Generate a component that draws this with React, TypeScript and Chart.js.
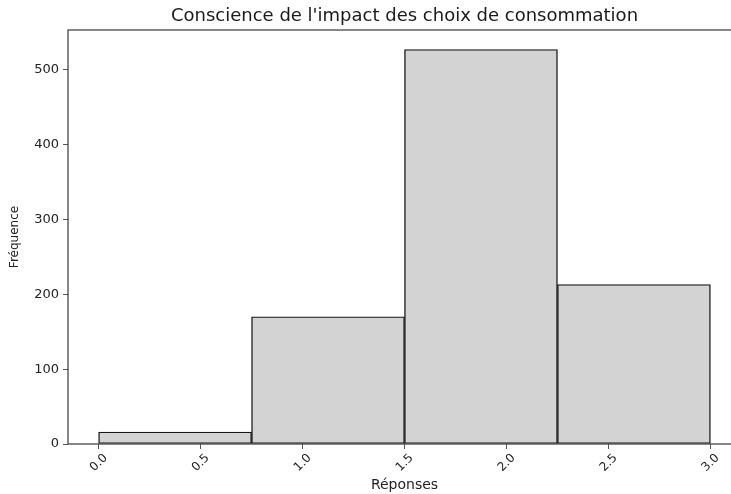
import React, { useEffect, useRef } from "react";
import { Chart, registerables } from "chart.js";

Chart.register(...registerables);

const binEdges = [0, 0.75, 1.5, 2.25, 3.0];
const counts = [16, 170, 527, 213];
const xTicks = [0, 0.5, 1.0, 1.5, 2.0, 2.5, 3.0];
const yTicks = [0, 100, 200, 300, 400, 500];
const titleText = "Conscience de l'impact des choix de consommation";
const xLabel = "Réponses";
const yLabel = "Fréquence";

const FONT = "'DejaVu Sans', sans-serif";

const framePlugin = {
  id: "frame",
  afterLayout(chart: any) {
    const tb = chart.titleBlock;
    if (tb) {
      tb.left = chart.chartArea.left;
      tb.right = chart.chartArea.right;
      tb.width = tb.right - tb.left;
    }
  },
  afterDatasetsDraw(chart: any) {
    const { ctx, chartArea } = chart;
    ctx.save();
    ctx.strokeStyle = "#3a3a3a";
    ctx.lineWidth = 1.2;
    ctx.strokeRect(chartArea.left, chartArea.top, chartArea.right - chartArea.left, chartArea.bottom - chartArea.top);
    ctx.restore();
  },
};

export default function App() {
  const ref = useRef<HTMLCanvasElement | null>(null);
  useEffect(() => {
    if (!ref.current) return;
    const data = counts.map((c, i) => ({ x: (binEdges[i] + binEdges[i + 1]) / 2, y: c }));
    const chart = new Chart(ref.current, {
      type: "bar",
      data: {
        datasets: [
          {
            data,
            backgroundColor: "#d3d3d3",
            borderColor: "#151515",
            borderWidth: 1.4,
            borderSkipped: false,
            barThickness: "flex",
            barPercentage: 1,
            categoryPercentage: 1,
          } as any,
        ],
      },
      options: {
        animation: false,
        responsive: true,
        maintainAspectRatio: false,
        layout: { padding: { left: 0, right: 19, top: 0, bottom: 0 } },
        plugins: {
          legend: { display: false },
          tooltip: { enabled: false },
          title: {
            display: true,
            text: titleText,
            color: "#1a1a1a",
            font: { family: FONT, size: 18, weight: "normal" },
            padding: { top: 6, bottom: 2.4 },
          },
        },
        scales: {
          x: {
            type: "linear",
            min: -0.15,
            max: 3.15,
            offset: false,
            grid: { display: true, drawOnChartArea: false, drawTicks: true, tickLength: 5, color: "#555", offset: false },
            border: { display: false },
            afterBuildTicks: (s: any) => {
              s.ticks = xTicks.map((v) => ({ value: v }));
            },
            afterFit: (s: any) => {
              s.height = 50;
            },
            ticks: {
              minRotation: 45,
              maxRotation: 45,
              autoSkip: false,
              color: "#222",
              font: { family: FONT, size: 12 },
              padding: 2,
              labelOffset: 7,
              callback: (v: any) => Number(v).toFixed(1),
            },
            title: {
              display: true,
              text: xLabel,
              color: "#222",
              font: { family: FONT, size: 14 },
              padding: { top: 0, bottom: 0 },
            },
          },
          y: {
            type: "linear",
            min: 0,
            max: 553,
            grid: { display: true, drawOnChartArea: false, drawTicks: true, tickLength: 5, color: "#555" },
            border: { display: false },
            afterBuildTicks: (s: any) => {
              s.ticks = yTicks.map((v) => ({ value: v }));
            },
            afterFit: (s: any) => {
              s.width = 68;
            },
            ticks: {
              color: "#222",
              font: { family: FONT, size: 13 },
              padding: 4,
              callback: (v: any) => String(v),
            },
            title: {
              display: true,
              text: yLabel,
              color: "#222",
              font: { family: FONT, size: 12 },
              padding: { top: 8, bottom: 0 },
            },
          },
        },
      },
      plugins: [framePlugin],
    });
    return () => chart.destroy();
  }, []);

  return (
    <div style={{ position: "fixed", left: 0, top: 0, width: 731, height: 494, overflow: "hidden", background: "#fff" }}>
      <div style={{ position: "relative", width: 760, height: 494 }}>
        <canvas ref={ref} />
      </div>
    </div>
  );
}
